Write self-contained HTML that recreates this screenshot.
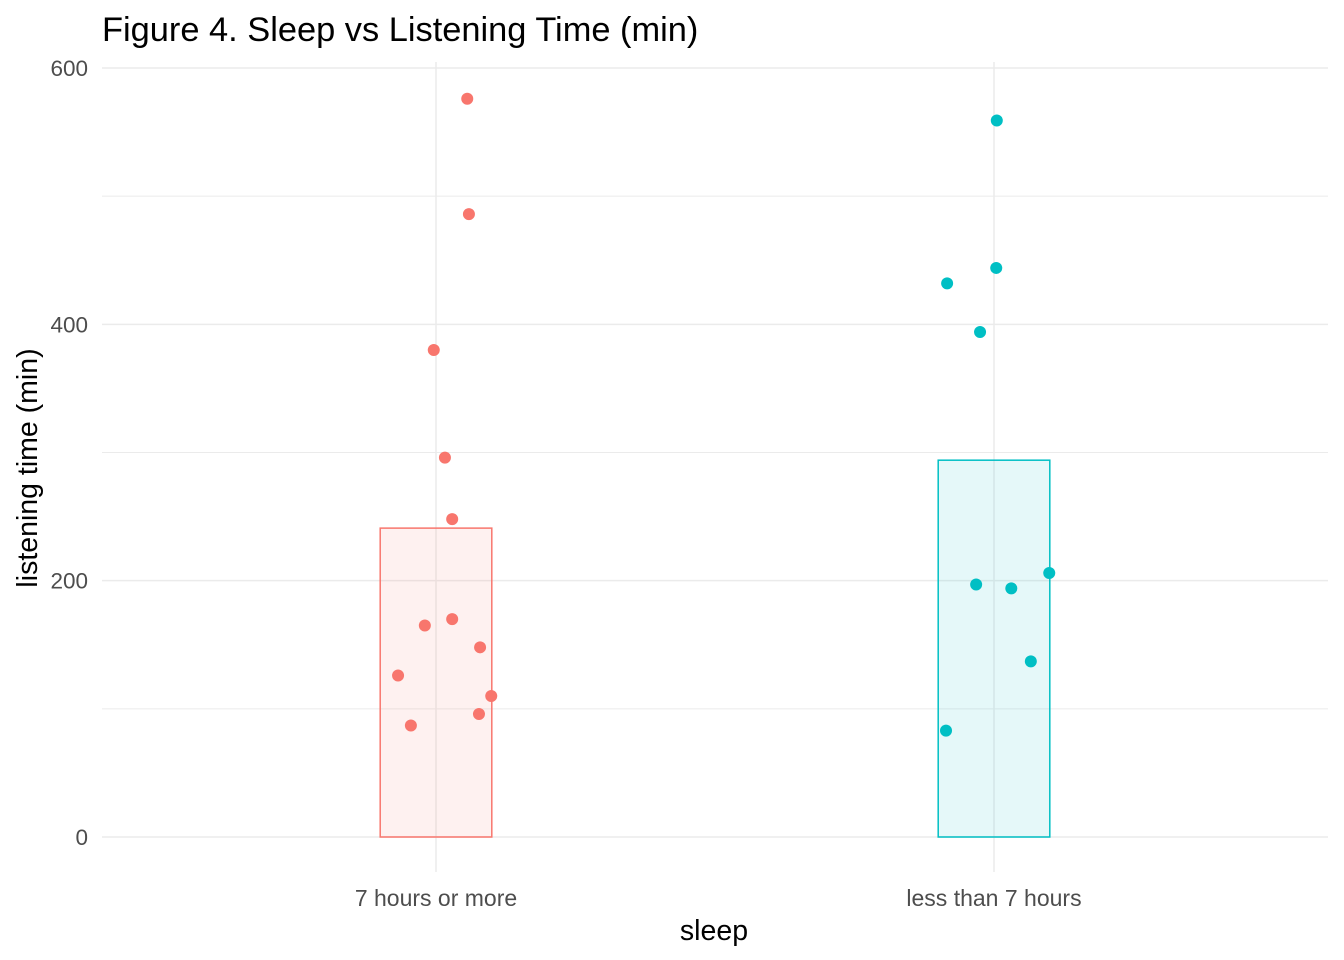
<!DOCTYPE html>
<html><head><meta charset="utf-8"><style>
body{margin:0;background:#fff;}
svg{display:block;font-family:"Liberation Sans",Arial,sans-serif;}
</style></head><body>
<svg id="chart" width="1344" height="960">
<text x="102" y="41" font-size="34.4" fill="#000">Figure 4. Sleep vs Listening Time (min)</text>
<g id="grid"></g><g id="bars"></g><g id="pts"></g><g id="axes"></g>
<text x="714" y="940" font-size="28.5" text-anchor="middle" fill="#000">sleep</text>
<text transform="translate(37,468) rotate(-90)" font-size="28.5" text-anchor="middle" fill="#000">listening time (min)</text>
</svg>
<script>
const categories=["7 hours or more","less than 7 hours"];
const barValues=[241,294];
const yTicks=[0,200,400,600];
const yMinor=[100,300,500];
const colors=["#F8766D","#00BFC4"];
const fills=["rgba(248,118,109,0.1)","rgba(0,191,196,0.1)"];
const ptGroup=[0,0,0,0,0,0,0,0,0,0,0,0,1,1,1,1,1,1,1,1,1];
const ptValue=[576,486,380,296,248,165,170,148,126,110,96,87,559,444,432,394,197,194,206,137,83];
const ptJitter=[0.056,0.059,-0.004,0.016,0.029,-0.02,0.029,0.079,-0.068,0.099,0.077,-0.045,0.005,0.004,-0.084,-0.025,-0.032,0.031,0.099,0.066,-0.086];
const NS="http://www.w3.org/2000/svg";
const y=v=>837-v*(769/600);
const x=i=>436+i*558;
const band=558;
function mk(p,tag,a){const e=document.createElementNS(NS,tag);for(const k in a)e.setAttribute(k,a[k]);document.getElementById(p).appendChild(e);return e;}
yMinor.forEach(v=>{const e=mk("grid","line",{x1:102,x2:1328,y1:y(v),y2:y(v),stroke:"#ebebeb","stroke-width":1});

});
yTicks.forEach(v=>{const e=mk("grid","line",{x1:102,x2:1328,y1:y(v),y2:y(v),stroke:"#ebebeb","stroke-width":1.5});


const t=mk("axes","text",{x:88,y:y(v)+8,"font-size":22.5,"text-anchor":"end",fill:"#4d4d4d"});t.textContent=v;

});
categories.forEach((c,i)=>{const g=mk("grid","line",{x1:x(i),x2:x(i),y1:62,y2:872,stroke:"#ebebeb","stroke-width":1.5});


const w=band*0.2;
const r=mk("bars","rect",{x:x(i)-w/2,y:y(barValues[i]),width:w,height:y(0)-y(barValues[i]),fill:fills[i],stroke:colors[i],"stroke-width":1.5});


const t=mk("axes","text",{x:x(i),y:906,"font-size":23,"text-anchor":"middle",fill:"#4d4d4d"});t.textContent=c;

});
ptValue.forEach((v,k)=>{const g=ptGroup[k];const c=mk("pts","circle",{cx:x(g)+ptJitter[k]*band,cy:y(v),r:6,fill:colors[g]});

});
</script>
</body></html>
